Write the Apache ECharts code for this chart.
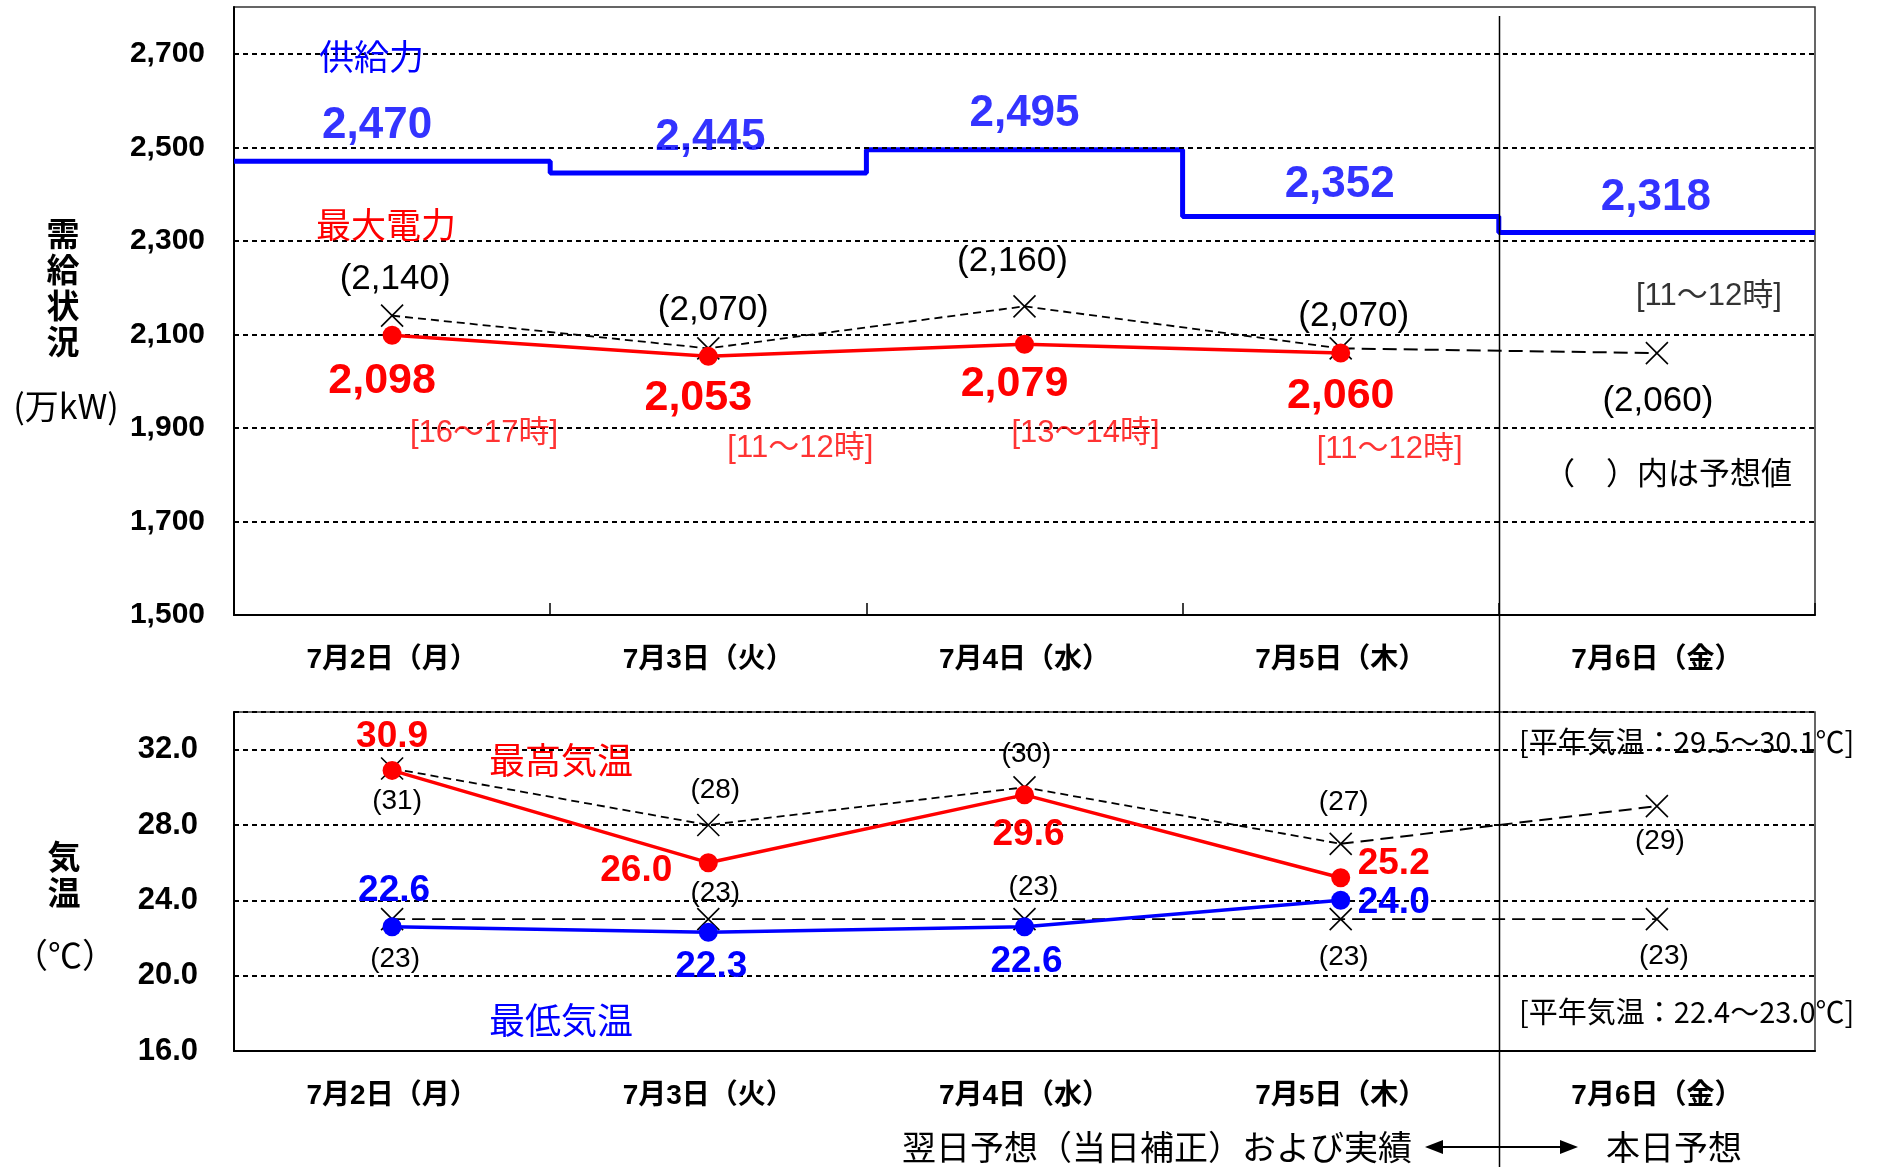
<!DOCTYPE html>
<html><head><meta charset="utf-8">
<script src="https://cdn.jsdelivr.net/npm/echarts@6/dist/echarts.min.js"></script>
<style>html,body{margin:0;padding:0;background:#fff}#c{width:1877px;height:1167px}</style>
</head><body><div id="c"></div>
<script>
// ---- data ----
const days = ['7月2日（月）','7月3日（火）','7月4日（水）','7月5日（木）','7月6日（金）'];
const supply = [2470, 2445, 2495, 2352, 2318];
const demandActual = [2098, 2053, 2079, 2060];
const demandForecast = [2140, 2070, 2160, 2070, 2060];
const demandPeakTime = ['16～17時', '11～12時', '13～14時', '11～12時'];
const forecastPeakTime = ['11～12時'];
const maxTempActual = [30.9, 26.0, 29.6, 25.2];
const maxTempForecast = [31, 28, 30, 27, 29];
const minTempActual = [22.6, 22.3, 22.6, 24.0];
const minTempForecast = [23, 23, 23, 23, 23];
const demandTicks = [1500, 1700, 1900, 2100, 2300, 2500, 2700];
const tempTicks = [16, 20, 24, 28, 32];

// ---- styling ----
const FONT = "'Liberation Sans','Noto Sans CJK JP',sans-serif";
const CJK = "'Noto Sans CJK JP','Liberation Sans',sans-serif";
const RED = '#FF0000', BLUE = '#0000FF', BLK = '#000000';
const CROSS = 'path://M0,0L20,20M20,0L0,20';
const fmt = v => Number(v).toLocaleString('en-US');

const supplyOff = [[-15,-35],[2,-35],[0,-36],[-1,-32],[-1,-35]];
const demandOff = [[-10,46],[-10,42],[-10,40],[0,43]];
const peakOff = [[92,98],[92,92],[61,89],[49,96]];
const fPeakOff = [[52,-57]];
const forecastOff = [[3,-36],[5,-38],[-12,-45],[13,-32],[1,48]];
const maxAOff = [[0,-34],[-72,8],[4,40],[53,-14]];
const maxFOff = [[5,33],[7,-35],[2,-33],[3,-42],[3,35]];
const minAOff = [[2,-36],[3,34],[2,35],[53,2]];
const minFOff = [[3,40],[7,-26],[9,-32],[3,38],[7,37]];

function items(arr, offs) {
  return arr.map((v, i) => ({ value: v, label: { offset: offs[i] } }));
}
function segment(arr, from, to) {
  return arr.map((v, i) => (i >= from && i <= to) ? v : null);
}
const gridLine = { type: [5, 4], width: 2, color: BLK };

const chart = echarts.init(document.getElementById('c'));
const option = {
  animation: false,
  backgroundColor: '#fff',
  grid: [
    { left: 234, right: 62, top: 7, height: 608, show: true, borderColor: '#333', borderWidth: 1.5, backgroundColor: 'transparent' },
    { left: 234, right: 62, top: 712, height: 339, show: true, borderColor: '#333', borderWidth: 1.5, backgroundColor: 'transparent' }
  ],
  xAxis: [
    { type: 'category', gridIndex: 0, data: days, boundaryGap: true,
      axisLine: { lineStyle: { color: BLK, width: 2 } },
      axisTick: { show: true, inside: true, length: 12, lineStyle: { color: BLK, width: 1.5 } },
      axisLabel: { color: BLK, fontSize: 28, fontWeight: 'bold', fontFamily: FONT, margin: 31 },
      splitLine: { show: false } },
    { type: 'value', gridIndex: 0, min: 0, max: supply.length, show: false },
    { type: 'category', gridIndex: 1, data: days, boundaryGap: true,
      axisLine: { lineStyle: { color: BLK, width: 2 } },
      axisTick: { show: false },
      axisLabel: { color: BLK, fontSize: 28, fontWeight: 'bold', fontFamily: FONT, margin: 31 },
      splitLine: { show: false } }
  ],
  yAxis: [
    { type: 'value', gridIndex: 0, min: 1500, max: 2800, interval: 100,
      axisLine: { show: true, lineStyle: { color: BLK, width: 2 } },
      axisTick: { show: false },
      splitLine: { show: false },
      axisLabel: { color: BLK, fontSize: 30, fontWeight: 'bold', fontFamily: FONT, margin: 29,
        formatter: v => demandTicks.includes(v) ? fmt(v) : '' } },
    { type: 'value', gridIndex: 1, min: 16, max: 34, interval: 4,
      axisLine: { show: true, lineStyle: { color: BLK, width: 2 } },
      axisTick: { show: false },
      splitLine: { show: true, lineStyle: gridLine },
      axisLabel: { color: BLK, fontSize: 31, fontWeight: 'bold', fontFamily: FONT, margin: 36,
        formatter: v => tempTicks.includes(v) ? v.toFixed(1) : '' } }
  ],
  series: [
    // --- demand panel ---
    { name: '供給力', type: 'line', xAxisIndex: 1, yAxisIndex: 0, step: 'end', symbol: 'none', z: 4,
      data: supply.map((v, i) => [i, v]).concat([[supply.length, supply[supply.length - 1]]]),
      lineStyle: { color: BLUE, width: 5 }, itemStyle: { color: BLUE } },
    { name: '供給力ラベル', type: 'scatter', xAxisIndex: 0, yAxisIndex: 0, symbolSize: 1, z: 6,
      itemStyle: { color: 'transparent' },
      data: supply.map((v, i) => ({ value: [i, v], label: { offset: supplyOff[i] } })),
      label: { show: true, position: 'inside', color: BLUE, fontSize: 44, fontWeight: 'bold', fontFamily: FONT,
        formatter: p => fmt(p.value[1]) } },
    { name: '予想線', type: 'line', xAxisIndex: 0, yAxisIndex: 0, symbol: 'none', z: 2,
      data: segment(demandForecast, 0, 3), lineStyle: { color: BLK, width: 1.8, type: [8, 5] } },
    { name: '本日予想線', type: 'line', xAxisIndex: 0, yAxisIndex: 0, symbol: 'none', z: 2,
      data: segment(demandForecast, 3, 4), lineStyle: { color: BLK, width: 2, type: [14, 7] } },
    { name: '最大電力予想', type: 'line', xAxisIndex: 0, yAxisIndex: 0, z: 3,
      symbol: CROSS, symbolSize: 22,
      itemStyle: { color: 'transparent', borderColor: BLK, borderWidth: 1.6 },
      lineStyle: { opacity: 0 },
      data: items(demandForecast, forecastOff),
      label: { show: true, position: 'inside', color: BLK, fontSize: 35, fontFamily: FONT,
        formatter: p => '(' + fmt(p.value) + ')' },
      markLine: { silent: true, symbol: ['none', 'none'], label: { show: false }, lineStyle: gridLine,
        data: demandTicks.map(v => ({ yAxis: v })) } },
    { name: '最大電力', type: 'line', xAxisIndex: 0, yAxisIndex: 0, z: 5,
      symbol: 'circle', symbolSize: 19,
      itemStyle: { color: RED }, lineStyle: { color: RED, width: 3.5 },
      data: items(demandActual, demandOff),
      label: { show: true, position: 'inside', color: RED, fontSize: 43, fontWeight: 'bold', fontFamily: FONT,
        formatter: p => fmt(p.value) } },
    { name: '時間帯', type: 'scatter', xAxisIndex: 0, yAxisIndex: 0, symbolSize: 1, z: 6,
      itemStyle: { color: 'transparent' },
      data: demandPeakTime.map((t, i) => ({ value: [i, demandActual[i]], name: t,
        label: { offset: peakOff[i], color: RED } }))
        .concat(forecastPeakTime.map((t, k) => ({ value: [demandForecast.length - 1, demandForecast[demandForecast.length - 1]], name: t,
        label: { offset: fPeakOff[k], color: BLK } }))),
      label: { show: true, position: 'inside', fontSize: 31, fontFamily: FONT,
        formatter: p => '[' + p.name + ']' } },

    // --- temperature panel ---
    { name: '最高気温予想線', type: 'line', xAxisIndex: 2, yAxisIndex: 1, symbol: 'none', z: 2,
      data: segment(maxTempForecast, 0, 3), lineStyle: { color: BLK, width: 1.8, type: [8, 5] } },
    { name: '最高気温本日予想線', type: 'line', xAxisIndex: 2, yAxisIndex: 1, symbol: 'none', z: 2,
      data: segment(maxTempForecast, 3, 4), lineStyle: { color: BLK, width: 2, type: [13, 7] } },
    { name: '最高気温予想', type: 'line', xAxisIndex: 2, yAxisIndex: 1, z: 3,
      symbol: CROSS, symbolSize: 22,
      itemStyle: { color: 'transparent', borderColor: BLK, borderWidth: 1.6 },
      lineStyle: { opacity: 0 },
      data: items(maxTempForecast, maxFOff),
      label: { show: true, position: 'inside', color: BLK, fontSize: 28, fontFamily: FONT,
        formatter: p => '(' + p.value + ')' } },
    { name: '最低気温予想', type: 'line', xAxisIndex: 2, yAxisIndex: 1, z: 3,
      symbol: CROSS, symbolSize: 22,
      itemStyle: { color: 'transparent', borderColor: BLK, borderWidth: 1.6 },
      lineStyle: { color: BLK, width: 1.8, type: [13, 7] },
      data: items(minTempForecast, minFOff),
      label: { show: true, position: 'inside', color: BLK, fontSize: 28, fontFamily: FONT,
        formatter: p => '(' + p.value + ')' } },
    { name: '最高気温', type: 'line', xAxisIndex: 2, yAxisIndex: 1, z: 5,
      symbol: 'circle', symbolSize: 19,
      itemStyle: { color: RED }, lineStyle: { color: RED, width: 3.5 },
      data: items(maxTempActual, maxAOff),
      label: { show: true, position: 'inside', color: RED, fontSize: 37, fontWeight: 'bold', fontFamily: FONT,
        formatter: p => p.value.toFixed(1) } },
    { name: '最低気温', type: 'line', xAxisIndex: 2, yAxisIndex: 1, z: 5,
      symbol: 'circle', symbolSize: 19,
      itemStyle: { color: BLUE }, lineStyle: { color: BLUE, width: 3.5 },
      data: items(minTempActual, minAOff),
      label: { show: true, position: 'inside', color: BLUE, fontSize: 37, fontWeight: 'bold', fontFamily: FONT,
        formatter: p => p.value.toFixed(1) } }
  ]
};
chart.setOption(option);

const sepX = Math.round(chart.convertToPixel({ xAxisIndex: 1 }, supply.length - 1)) + 0.5;
function txt(text, x, y, size, color, opts) {
  return { type: 'text', silent: true, z: 100,
    style: Object.assign({ text: text, x: x, y: y, fontSize: size, fontFamily: CJK, fill: color,
      align: 'left', verticalAlign: 'middle' }, opts || {}) };
}
chart.setOption({
  graphic: [
    txt('供給力', 319, 57, 35, BLUE),
    txt('最大電力', 316, 225, 35, RED),
    txt('最高気温', 489, 760, 36, RED),
    txt('最低気温', 489, 1020, 36, BLUE),
    txt('需\n給\n状\n況', 63, 287, 33, BLK, { align: 'center', fontWeight: 'bold', lineHeight: 36 }),
    txt('(万kW)', 66, 406, 34, BLK, { align: 'center' }),
    txt('気\n温', 64, 874, 33, BLK, { align: 'center', fontWeight: 'bold', lineHeight: 36 }),
    txt('（℃）', 65, 955, 34, BLK, { align: 'center' }),
    txt('（　）内は予想値', 1792, 472, 31, BLK, { align: 'right' }),
    txt('[平年気温：29.5～30.1℃]', 1519, 742, 29, BLK),
    txt('[平年気温：22.4～23.0℃]', 1519, 1012, 29, BLK),
    txt('翌日予想（当日補正）および実績', 902, 1147, 34, BLK),
    txt('本日予想', 1606, 1147, 34, BLK),
    { type: 'line', silent: true, z: 90, shape: { x1: sepX, y1: 16, x2: sepX, y2: 1167 },
      style: { stroke: BLK, lineWidth: 1.5 } },
    { type: 'line', silent: true, z: 90, shape: { x1: 1438, y1: 1147, x2: 1565, y2: 1147 },
      style: { stroke: BLK, lineWidth: 2 } },
    { type: 'polygon', silent: true, z: 90, shape: { points: [[1425, 1147], [1443, 1140], [1443, 1154]] },
      style: { fill: BLK } },
    { type: 'polygon', silent: true, z: 90, shape: { points: [[1578, 1147], [1560, 1140], [1560, 1154]] },
      style: { fill: BLK } }
  ]
});
</script></body></html>
